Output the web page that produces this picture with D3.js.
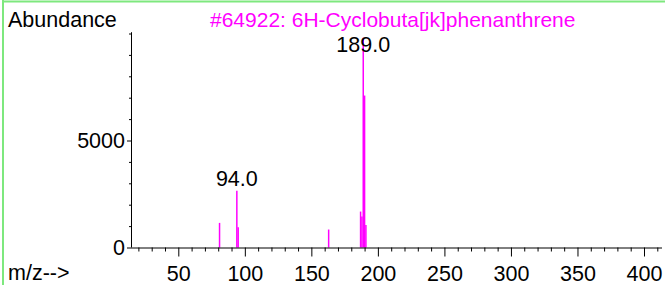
<!DOCTYPE html>
<html><head><meta charset="utf-8">
<script src="https://cdn.jsdelivr.net/npm/d3@7"></script>
<style>
html,body{margin:0;padding:0;background:#fff;}
svg{display:block;}
text{font-family:"Liberation Sans",Arial,sans-serif;}
</style></head>
<body>
<script>
// ---- data ----
const title = "#64922: 6H-Cyclobuta[jk]phenanthrene";
const mz = [81, 94, 95, 163, 187, 188, 189, 190, 191];
const abundance = [1150, 2650, 950, 840, 1680, 1450, 9800, 7100, 1050];
const labeledPeaks = [94, 189];
const yTickLabels = [0, 5000];
const xTickLabels = [50, 100, 150, 200, 250, 300, 350, 400];

const W = 665, H = 285;
const svg = d3.select("body").append("svg").attr("width", W).attr("height", H);

const x = d3.scaleLinear().domain([50, 400]).range([178.3, 644]);
const y = d3.scaleLinear().domain([0, 5000]).range([247.5, 140.5]);
const x0 = 131, xEnd = 662;
const yTop = y(10060);

// frame
svg.append("line").attr("x1", 3).attr("x2", W).attr("y1", 1.5).attr("y2", 1.5)
  .attr("stroke", "#7ee87e").attr("stroke-width", 2);
svg.append("line").attr("x1", 3).attr("x2", 3).attr("y1", 0).attr("y2", H)
  .attr("stroke", "#7ee87e").attr("stroke-width", 2);

const fs = 21.5;
svg.append("text").attr("x", 8).attr("y", 27).attr("font-size", fs).text("Abundance");
svg.append("text").attr("x", 210).attr("y", 27).attr("font-size", 21)
  .attr("fill", "#ff00ff").text(title);
svg.append("text").attr("x", 8).attr("y", 280).attr("font-size", fs).text("m/z-->");

// peaks
const peaks = mz.map((m, i) => ({m, v: abundance[i]}));
svg.append("g").selectAll("line").data(peaks).join("line")
  .attr("x1", d => x(d.m)).attr("x2", d => x(d.m))
  .attr("y1", y(0)).attr("y2", d => y(d.v))
  .attr("stroke", "#ff00ff").attr("stroke-width", 1.5);

// y axis
const yAxis = d3.axisLeft(y).tickValues(d3.range(0, 10001, 1000)).tickSize(2)
  .tickFormat(d => yTickLabels.includes(d) ? d : "");
const gy = svg.append("g").attr("transform", `translate(${x0},0)`).call(yAxis);
gy.select(".domain").remove();
gy.append("line").attr("x1", 0.5).attr("x2", 0.5).attr("y1", yTop).attr("y2", y(0)).attr("stroke", "#000");
gy.selectAll(".tick line").attr("stroke", "#000").attr("x2", d => yTickLabels.includes(d) ? -4 : -2);
gy.selectAll(".tick text").attr("font-size", fs).attr("font-family", '"Liberation Sans",Arial,sans-serif')
  .attr("fill", "#000").attr("x", -6);

// x axis
const xAxis = d3.axisBottom(x).tickValues(d3.range(20, 411, 10)).tickSize(4)
  .tickFormat(d => xTickLabels.includes(d) ? d : "");
const gx = svg.append("g").attr("transform", `translate(0,${y(0)})`).call(xAxis);
gx.select(".domain").remove();
gx.append("line").attr("x1", x0).attr("x2", xEnd).attr("y1", 0.5).attr("y2", 0.5).attr("stroke", "#000");
gx.selectAll(".tick line").attr("stroke", "#000").attr("y2", d => xTickLabels.includes(d) ? 9 : 4);
gx.selectAll(".tick text").attr("font-size", fs).attr("font-family", '"Liberation Sans",Arial,sans-serif')
  .attr("fill", "#000").attr("y", 18);

// peak labels
svg.append("g").selectAll("text").data(peaks.filter(d => labeledPeaks.includes(d.m))).join("text")
  .attr("x", d => x(d.m)).attr("y", d => Math.max(y(d.v) - 5, 52))
  .attr("text-anchor", "middle").attr("font-size", fs).attr("fill", "#000")
  .text(d => d.m.toFixed(1));
</script>
</body></html>
